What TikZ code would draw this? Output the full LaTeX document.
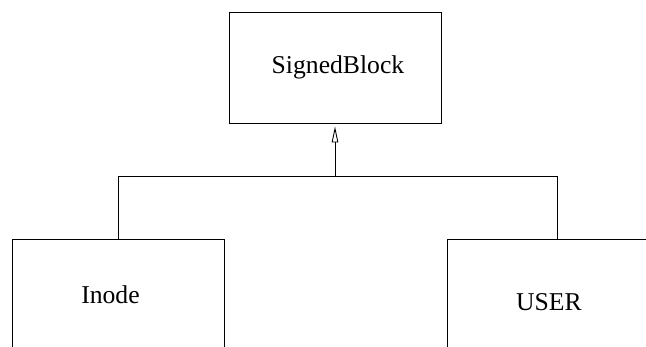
\documentclass[tikz,border=0pt]{standalone}
\usepackage{fontspec}
\setmainfont{Liberation Serif}
\usetikzlibrary{arrows.meta}
\begin{document}
\begin{tikzpicture}[
    classe/.style={draw,rectangle,line width=0.5pt,inner sep=0pt,
                   minimum width=4.24cm,minimum height=2.22cm},
    arco/.style={line width=0.5pt},
    eredita/.style={-{Triangle[open,length=0.32cm,width=0.13cm]},shorten >=0.06cm}]
  \fontsize{14.6}{17}\selectfont
  \useasboundingbox (0,0) rectangle (12.92,6.94);
  \clip (0,0) rectangle (12.92,6.94);

  % ---- classi --------------------------------------------------------------
  \node[classe] (signed) at (6.70,5.59) {\hspace*{0.12cm}SignedBlock};
  \node[classe] (inode)  at (2.36,1.05) {Inode\hspace*{0.30cm}};
  \node[classe,minimum width=4.40cm,text height=17.7pt,text depth=0pt]
       (user) at (11.14,1.05) {USER\hspace*{0.32cm}};

  % ---- ereditarieta --------------------------------------------------------
  \coordinate (giunto) at (6.70,3.42);
  \draw[arco] (inode.north) |- (giunto) -| (user.north);
  \draw[arco,eredita] (giunto) -- (signed.south);
\end{tikzpicture}
\end{document}
